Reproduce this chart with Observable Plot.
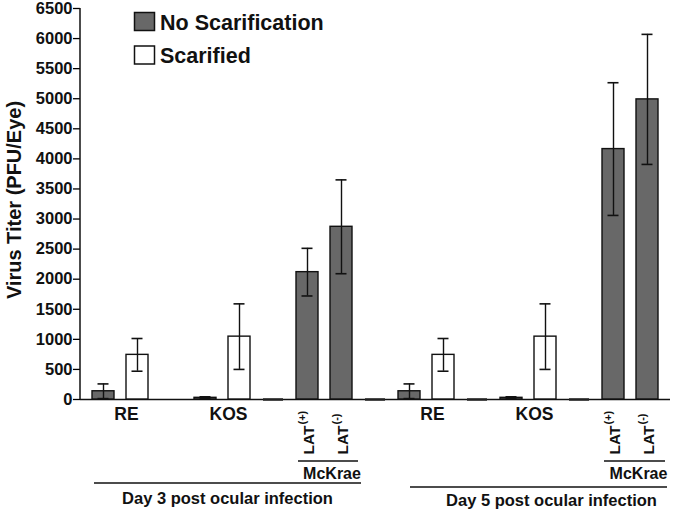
<!DOCTYPE html>
<html><head><meta charset="utf-8">
<script src="https://cdn.jsdelivr.net/npm/d3@7"></script>
<script src="https://cdn.jsdelivr.net/npm/@observablehq/plot@0.6"></script>
<style>body{margin:0;background:#fff}#chart{position:relative;width:680px;height:511px}</style>
</head><body><div id="chart"></div>
<script>
// ---- data ----
const seriesNames = ["No Scarification", "Scarified"];
const seriesColors = ["#686868", "#ffffff"];
const slots = ["d3RE_N","d3RE_S","d3gap","d3KOS_N","d3KOS_S","d3Z1","d3LATp","d3LATm","d3Z2",
               "d5RE_N","d5RE_S","d5Z1","d5KOS_N","d5KOS_S","d5Z2","d5LATp","d5LATm"];
const slotSeries = ["No Scarification","Scarified",null,"No Scarification","Scarified","zero","No Scarification","No Scarification","zero",
                    "No Scarification","Scarified","zero","No Scarification","Scarified","zero","No Scarification","No Scarification"];
const values = [137,742,null,28,1045,0,2117,2871,0,137,742,0,28,1045,0,4163,4989];
const errors = [122,272,null,17,545,0,396,780,0,122,272,0,17,545,0,1103,1081];
const yTicks = [0,500,1000,1500,2000,2500,3000,3500,4000,4500,5000,5500,6000,6500];
const strainLabels = ["RE","KOS","RE","KOS"];
const strainSlots = ["d3RE_S","d3KOS_S","d5RE_S","d5KOS_S"];
const latLabels = ["LAT","LAT","LAT","LAT"];
const latSup = ["(+)","(-)","(+)","(-)"];
const latSlots = ["d3LATp","d3LATm","d5LATp","d5LATm"];
const mckraeLabel = "McKrae";
const mckraeSpans = [["d3LATp","d3LATm"],["d5LATp","d5LATm"]];
const dayLabels = ["Day 3 post ocular infection","Day 5 post ocular infection"];
const daySpans = [["d3RE_N","d3LATm"],["d5RE_N","d5LATm"]];
const yLabel = "Virus Titer (PFU/Eye)";

// ---- tables ----
const rows = slots.map((s,i)=>({slot:s, series:slotSeries[i], value:values[i], err:errors[i]}));
const bars = rows.filter(r=>r.series && r.series!=="zero");
const zeros = rows.filter(r=>r.series==="zero");
const strains = strainLabels.map((t,i)=>({label:t, slot:strainSlots[i]}));
const lats = latLabels.map((t,i)=>({label:t, sup:latSup[i], slot:latSlots[i]}));

const FONT = "'Liberation Sans', Arial, Helvetica, sans-serif";
const plot = Plot.plot({
  width: 680, height: 511,
  marginLeft: 80, marginRight: 10, marginTop: 8, marginBottom: 112,
  style: {fontFamily: FONT, fontSize: "16px", fontWeight: "bold", color: "#000", background: "#fff"},
  x: {type: "band", domain: slots, paddingInner: 0.36, paddingOuter: 0.2, axis: null},
  y: {domain: [0, 6500]},
  color: {domain: seriesNames, range: seriesColors},
  marks: [
    Plot.axisY({ticks: yTicks, tickFormat: d => String(d), tickSize: 7, tickPadding: 1, label: null, strokeWidth: 1.3, fontSize: 16.5, fontWeight: "bold", fill: "#111"}),
    Plot.ruleY([0], {stroke: "#111", strokeWidth: 1.5}),
    Plot.barY(bars, {x: "slot", y: "value", fill: "series", stroke: "#111", strokeWidth: 1.4}),
    Plot.ruleX(bars, {x: "slot", y1: d => d.value - d.err, y2: d => d.value + d.err, stroke: "#111", strokeWidth: 1.4}),
    Plot.tickY(bars, {x: "slot", y: d => d.value + d.err, stroke: "#111", strokeWidth: 1.6, insetLeft: 5.5, insetRight: 5.5}),
    Plot.tickY(bars.filter(d => d.value - d.err > 0), {x: "slot", y: d => d.value - d.err, stroke: "#111", strokeWidth: 1.6, insetLeft: 5.5, insetRight: 5.5}),
    Plot.tickY(zeros, {x: "slot", y: "value", stroke: "#222", strokeWidth: 2.5, insetLeft: 1, insetRight: 1}),
    Plot.text(strains, {x: "slot", text: "label", frameAnchor: "bottom", dx: -11, dy: 15, lineAnchor: "middle", fontSize: 17.5, fontWeight: "bold", fill: "#111"}),
    Plot.text(lats, {x: "slot", text: "label", frameAnchor: "bottom", rotate: -90, textAnchor: "start", lineAnchor: "middle", dx: 1.5, dy: 55, fontSize: 15.5, fontWeight: "bold", fill: "#111"}),
    Plot.text(lats, {x: "slot", text: "sup", frameAnchor: "bottom", rotate: -90, textAnchor: "start", lineAnchor: "middle", dx: -5, dy: 25, fontSize: 11, fontWeight: "bold", fill: "#111"})
  ]
});
document.getElementById("chart").appendChild(plot);

// ---- annotations positioned with Plot's own scales ----
const xs = plot.scale("x"), ys = plot.scale("y");
const bw = xs.bandwidth;
const bandStart = s => xs.apply(s);
const svg = d3.select(plot);
const g = svg.append("g").attr("fill", "#111").attr("stroke", "none").attr("text-anchor", "start");

// y axis line
g.append("line").attr("x1", 80).attr("x2", 80).attr("y1", ys.apply(6500)).attr("y2", ys.apply(0))
  .attr("stroke", "#111").attr("stroke-width", 1.5);

// McKrae brackets
const mckOff = [[2, 6], [2, 7]];
mckraeSpans.forEach(([a, b], i) => {
  const x1 = bandStart(a) + mckOff[i][0], x2 = bandStart(b) + bw + mckOff[i][1];
  const y0 = ys.apply(0);
  g.append("line").attr("x1", x1).attr("x2", x2).attr("y1", y0 + 62).attr("y2", y0 + 62).attr("stroke", "#111").attr("stroke-width", 1.5);
  g.append("text").attr("x", (x1 + x2) / 2 + 4).attr("y", y0 + 74).attr("dy", "0.35em").attr("text-anchor", "middle")
    .style("font-size", "16px").style("font-weight", "bold").text(mckraeLabel);
});

// Day brackets
const dayOff = [[2, 9], [12, 9]], dayTextDx = [0, 13], dayLineY = [84, 88], dayTextY = [99.5, 101];
daySpans.forEach(([a, b], i) => {
  const x1 = bandStart(a) + dayOff[i][0], x2 = bandStart(b) + bw + dayOff[i][1];
  const y0 = ys.apply(0);
  g.append("line").attr("x1", x1).attr("x2", x2).attr("y1", y0 + dayLineY[i]).attr("y2", y0 + dayLineY[i]).attr("stroke", "#111").attr("stroke-width", 1.5);
  g.append("text").attr("x", (x1 + x2) / 2 + dayTextDx[i]).attr("y", y0 + dayTextY[i]).attr("dy", "0.35em").attr("text-anchor", "middle")
    .style("font-size", "16.5px").style("font-weight", "bold").text(dayLabels[i]);
});

// y label
g.append("text").attr("transform", "translate(14,200) rotate(-90)").attr("dy", "0.35em").attr("text-anchor", "middle")
  .style("font-size", "20px").style("font-weight", "bold").text(yLabel);

// legend
seriesNames.forEach((name, i) => {
  const top = 12.5 + i * 33.5;
  g.append("rect").attr("x", 134.5).attr("y", top).attr("width", 20).attr("height", 18)
    .attr("fill", seriesColors[i]).attr("stroke", "#111").attr("stroke-width", 1.5);
  g.append("text").attr("x", 160).attr("y", top + 9.5).attr("dy", "0.35em").attr("text-anchor", "start")
    .style("font-size", "21.5px").style("font-weight", "bold").text(name);
});
</script>
</body></html>
